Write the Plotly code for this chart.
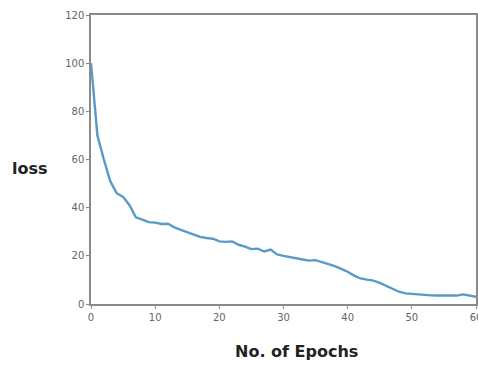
import plotly.graph_objects as go

epochs = list(range(61))
loss = [100, 70, 60, 51, 46, 44.5, 41, 36, 35, 34,
        33.8, 33.2, 33.3, 31.8, 30.8, 29.8, 28.8, 27.9, 27.4, 27.1,
        26, 25.8, 26, 24.6, 23.8, 22.8, 23, 21.8, 22.6, 20.6,
        20, 19.6, 18.9, 18.5, 18, 18.2, 17.4, 16.6, 15.7, 14.6,
        13.4, 11.8, 10.6, 10.1, 9.7, 8.8, 7.6, 6.2, 5.1, 4.4,
        4.2, 3.8, 3.5, 3.6, 3.5, 3.5, 3.2, 3.5, 4.0, 3.4, 3.0]
x_ticks = [0, 10, 20, 30, 40, 50, 60]
y_ticks = [0, 20, 40, 60, 80, 100, 120]

fig = go.Figure()
fig.add_trace(go.Scatter(x=epochs, y=loss, mode="lines",
                         line=dict(color="#5a9ac6", width=2.4),
                         showlegend=False, hoverinfo="skip"))

axis_common = dict(showgrid=False, zeroline=False, showline=True,
                   linecolor="#8a8a8a", linewidth=1.5, mirror=True,
                   ticks="outside", ticklen=3, tickcolor="#8a8a8a",
                   ticklabeloverflow="allow",
                   tickfont=dict(family="DejaVu Sans", size=10, color="#666666"))

fig.update_xaxes(range=[0, 60], tickvals=x_ticks, automargin=False, **axis_common)
fig.update_yaxes(range=[0, 120], tickvals=y_ticks, automargin=False, **axis_common)

fig.add_annotation(text="<b>loss</b>", x=30, y=168, xref="paper", yref="paper",
                   showarrow=False, font=dict(family="DejaVu Sans", size=16, color="#222222"))
fig.add_annotation(text="<b>No. of Epochs</b>", x=296, y=352, xref="paper", yref="paper",
                   showarrow=False, font=dict(family="DejaVu Sans", size=16, color="#222222"))

W, H = 478, 365
L, R, T, B = 91, 2, 15, 61
# convert pixel annotation positions to paper coords
for a in fig.layout.annotations:
    a.x = (a.x - L) / (W - L - R)
    a.y = (H - B - a.y) / (H - T - B)
    a.xanchor = "center"
    a.yanchor = "middle"

fig.update_layout(width=W, height=H, margin=dict(l=L, r=R, t=T, b=B),
                  plot_bgcolor="white", paper_bgcolor="white")

fig.write_html("out.html")
